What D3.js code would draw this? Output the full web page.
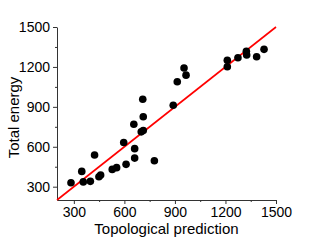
<!DOCTYPE html>
<html>
<head>
<meta charset="utf-8">
<script src="https://cdn.jsdelivr.net/npm/d3@7"></script>
<style>
  html, body { margin: 0; padding: 0; background: #fff; }
  svg { display: block; font-family: Arial, "Liberation Sans", sans-serif; }
</style>
</head>
<body>
<div id="chart"></div>
<script>
// topological prediction vs total energy
const predicted = [283, 347, 356, 398, 423, 449, 459, 528, 554, 610, 596, 656, 661, 661, 700, 712, 712, 709, 778,
  890, 914, 954, 966, 1211, 1211, 1274, 1324, 1326, 1385, 1429];
const energy = [330, 415, 336, 340, 538, 375, 388, 430, 443, 468, 632, 769, 586, 515, 712, 722, 826, 957, 495,
  912, 1089, 1192, 1138, 1250, 1201, 1269, 1318, 1290, 1277, 1332];
const majorTicks = [300, 600, 900, 1200, 1500];
const minorTicks = [450, 750, 1050, 1350];
const xTitle = 'Topological prediction';
const yTitle = 'Total energy';

const width = 320, height = 240;
const margin = { top: 27, right: 44, bottom: 40, left: 57 };
const innerW = width - margin.left - margin.right;
const innerH = height - margin.top - margin.bottom;

const svg = d3.select('#chart').append('svg')
  .attr('width', width)
  .attr('height', height);

const g = svg.append('g')
  .attr('transform', `translate(${margin.left},${margin.top})`);

const x = d3.scaleLinear().domain([200, 1500]).range([0, innerW]);
const y = d3.scaleLinear().domain([200, 1500]).range([innerH, 0]);
const fmt = d3.format('d');

// minor ticks (no labels)
g.append('g')
  .attr('transform', `translate(0,${innerH})`)
  .call(d3.axisBottom(x).tickValues(minorTicks).tickSize(2).tickFormat(''))
  .call(s => s.select('.domain').remove())
  .call(s => s.selectAll('text').remove());
g.append('g')
  .call(d3.axisLeft(y).tickValues(minorTicks).tickSize(2).tickFormat(''))
  .call(s => s.select('.domain').remove())
  .call(s => s.selectAll('text').remove());

// main axes
const xAxis = g.append('g')
  .attr('transform', `translate(0,${innerH})`)
  .call(d3.axisBottom(x).tickValues(majorTicks).tickFormat(fmt).tickSize(4).tickSizeOuter(0).tickPadding(3));
const yAxis = g.append('g')
  .call(d3.axisLeft(y).tickValues(majorTicks).tickFormat(fmt).tickSize(4).tickSizeOuter(0).tickPadding(3));

[xAxis, yAxis].forEach(a => {
  a.selectAll('text').attr('font-size', 14).attr('fill', '#000')
    .style('font-family', 'Arial, "Liberation Sans", sans-serif');
  a.selectAll('line, path').attr('stroke', '#333');
});
g.selectAll('.tick line').attr('stroke', '#333');

// y = x reference line
g.append('line')
  .attr('x1', x(200)).attr('y1', y(200))
  .attr('x2', x(1500)).attr('y2', y(1500))
  .attr('stroke', '#ff0000')
  .attr('stroke-width', 1.6);

// points
g.selectAll('.dot')
  .data(predicted.map((p, i) => ({ p, e: energy[i] })))
  .enter()
  .append('circle')
  .attr('class', 'dot')
  .attr('cx', d => x(d.p))
  .attr('cy', d => y(d.e))
  .attr('r', 3.8)
  .attr('fill', '#000');

// titles
svg.append('text')
  .attr('x', margin.left + innerW / 2)
  .attr('y', 234)
  .attr('text-anchor', 'middle')
  .attr('font-size', 15)
  .text(xTitle);

svg.append('text')
  .attr('transform', `translate(19,${margin.top + innerH / 2 + 4}) rotate(-90)`)
  .attr('text-anchor', 'middle')
  .attr('font-size', 15)
  .text(yTitle);
</script>
</body>
</html>
